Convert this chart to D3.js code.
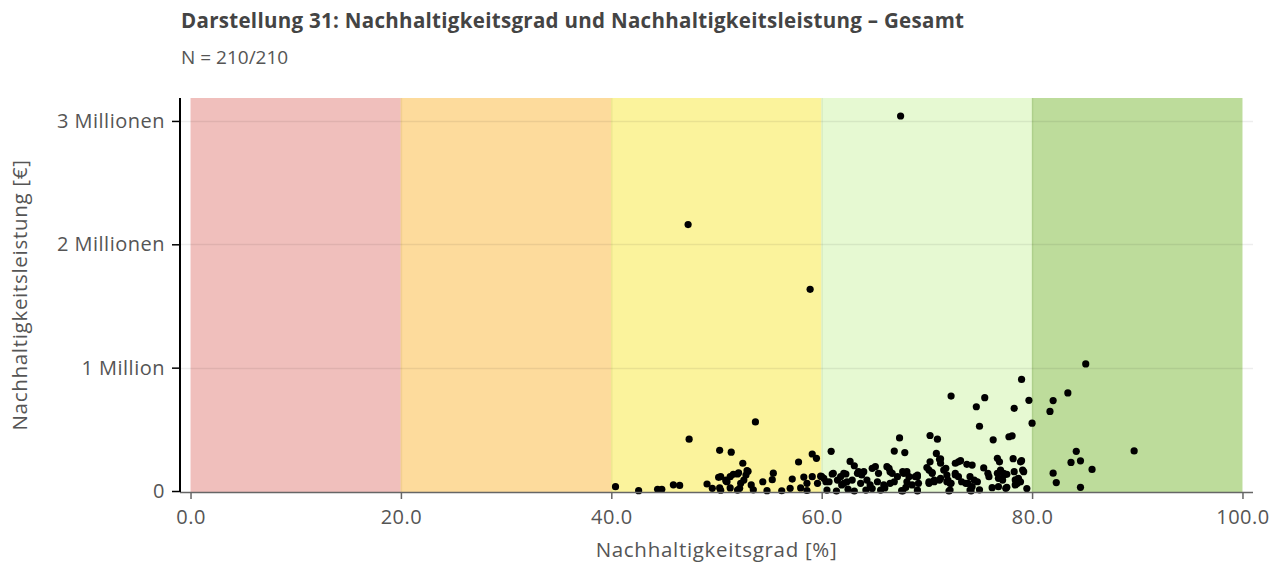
<!DOCTYPE html>
<html>
<head>
<meta charset="utf-8">
<script src="https://cdn.jsdelivr.net/npm/d3@7"></script>
<style>
  html, body { margin: 0; padding: 0; background: #fff; }
  svg { display: block; font-family: "Open Sans", "Noto Sans", sans-serif; }
</style>
</head>
<body>
<svg id="chart" width="1279" height="563"></svg>
<script>
// Rating bands along the x axis (Nachhaltigkeitsgrad in %)
const bandStarts = [0, 20, 40, 60, 80];
const bandEnds   = [20, 40, 60, 80, 100];
const bandColors = ["#f0bfbc", "#fddb9c", "#fbf39c", "#e6f9d2", "#bddc9b"];
const bandEdges  = ["#e6b3b0", "#f2cf90", "#efe690", "#d8edc3", "#aed08c"];

const xTicks = [0, 20, 40, 60, 80, 100];
const xTickLabels = ["0.0", "20.0", "40.0", "60.0", "80.0", "100.0"];
const yTicks = [0, 1e6, 2e6, 3e6];
const yTickLabels = ["0", "1 Million", "2 Millionen", "3 Millionen"];

// Companies: Nachhaltigkeitsgrad [%] and Nachhaltigkeitsleistung [Tsd. €]
const grad = [
  67.5, 47.3, 58.9, 85.1, 79.0, 83.4, 72.3, 75.5, 79.7, 82.0,
  74.7, 78.3, 81.7, 80.0, 75.0, 53.7, 47.4, 70.3, 71.0, 76.3,
  77.8, 78.1, 67.4, 67.9, 66.9, 84.2, 89.7, 50.3, 51.4, 59.1,
  59.5, 60.9, 70.9, 83.7, 84.6, 85.7, 82.0, 82.3, 84.6,
  40.4, 42.6, 44.4, 44.8, 45.9, 46.5, 49.1, 49.6, 50.2, 50.3, 50.9,
  52.5, 57.8, 52.9, 51.6, 52.0, 51.3, 52.8, 50.4, 55.4, 55.3,
  54.4, 57.2, 58.3, 59.1, 59.6, 59.9, 50.9, 52.3, 52.6, 53.3,
  51.3, 52.0, 53.5, 54.8, 56.2, 57.0, 58.0, 58.6, 50.4, 52.2,
  58.6, 51.0, 53.0, 52.1,
  60.0, 61.0, 61.5, 61.8, 62.3, 62.1, 60.5, 61.4, 60.4, 61.1, 60.2, 61.9,
  62.7, 63.1, 62.1, 63.5, 63.8, 64.8, 65.1, 65.4, 66.4, 66.7,
  67.2, 67.7, 68.1, 68.3, 69.1, 70.2, 70.5, 71.6, 71.9, 72.7,
  73.9, 62.4, 62.9, 63.7, 64.3, 64.6, 65.3, 65.9, 66.5, 66.9,
  68.1, 68.6, 69.2, 70.2, 70.7, 71.2, 72.0, 72.3, 73.3, 63.1,
  64.2, 65.6, 67.7, 69.1, 72.1, 73.0, 71.3, 71.2, 70.3, 73.0,
  72.7, 73.8, 74.3, 71.3, 73.2, 76.7, 76.9, 78.2, 79.0, 79.2,
  70.0, 70.5, 71.8, 75.4, 75.8, 77.0, 77.3, 77.6, 78.3, 78.4,
  78.7, 67.8, 68.9, 70.2, 70.7, 71.3, 71.9, 72.2, 72.7, 73.7,
  74.1, 74.3, 74.8, 76.2, 76.8, 77.6, 76.8, 77.3, 67.6, 69.1,
  72.2, 74.2, 78.6, 78.9, 74.5, 74.1, 75.9, 76.7, 77.2, 77.5,
  78.9, 79.1, 78.4, 66.2, 66.5, 69.1, 64.0, 63.4, 62.5, 64.8,
  66.0, 68.0, 75.0, 79.5, 60.7
];
const leistung = [
  3040, 2160, 1635, 1030, 905, 795, 770, 757, 735, 733,
  683, 670, 645, 550, 525, 560, 420, 450, 420, 415,
  440, 447, 430, 312, 324, 322, 325, 330, 315, 300,
  265, 322, 305, 232, 245, 175, 145, 68, 30,
  35, 3, 14, 14, 50, 45, 57, 22, 111, 25, 82,
  225, 235, 165, 135, 138, 116, 130, 116, 145, 92,
  75, 97, 113, 116, 62, 120, 89, 62, 89, 49,
  25, 8, 10, 3, 2, 22, 25, 4, 6, 22,
  62, 75, 160, 148,
  116, 138, 89, 116, 138, 62, 8, 0, 75, 143, 103, 49,
  240, 205, 143, 157, 130, 184, 197, 143, 184, 143,
  116, 157, 157, 116, 116, 170, 143, 170, 130, 143,
  62, 75, 89, 62, 89, 49, 75, 49, 62, 75,
  75, 49, 62, 75, 89, 89, 89, 62, 75, 0,
  8, 8, 0, 0, 0, 116, 225, 257, 237, 237,
  225, 216, 210, 260, 246, 265, 237, 262, 246, 157,
  190, 150, 184, 187, 143, 170, 143, 135, 157, 90,
  103, 143, 116, 62, 75, 103, 75, 62, 130, 62,
  116, 35, 75, 27, 35, 30, 103, 130, 3, 8,
  8, 0, 62, 75, 89, 8, 116, 143, 89, 22,
  237, 170, 49, 197, 157, 130, 157, 143, 15, 20,
  25, 30, 10, 20, 75
];

const points = grad.map((g, i) => ({ x: g, y: leistung[i] * 1000 }));

const svg = d3.select("#chart");
const plotLeft = 180, plotRight = 1253, plotTop = 98, plotBottom = 492;
const textFont = "'Open Sans', sans-serif";

const x = d3.scaleLinear().domain([-1, 101]).range([plotLeft, plotRight]);
const y = d3.scaleLinear().domain([-0.008e6, 3.186e6]).range([plotBottom, plotTop]);

// Colored rating bands
const bands = bandStarts.map((s, i) => ({ s, e: bandEnds[i], c: bandColors[i], edge: bandEdges[i] }));
svg.append("g").selectAll("rect")
  .data(bands).join("rect")
  .attr("x", d => x(d.s))
  .attr("y", plotTop)
  .attr("width", d => x(d.e) - x(d.s))
  .attr("height", plotBottom - plotTop)
  .attr("fill", d => d.c);

// Band separators
svg.append("g").selectAll("line")
  .data(bands.slice(1)).join("line")
  .attr("x1", d => x(d.s) + 0.5).attr("x2", d => x(d.s) + 0.5)
  .attr("y1", plotTop).attr("y2", plotBottom)
  .attr("stroke", d => d.edge).attr("stroke-width", 1.5);

// Horizontal grid lines
svg.append("g").selectAll("line")
  .data(yTicks.slice(1)).join("line")
  .attr("x1", plotLeft).attr("x2", plotRight)
  .attr("y1", d => Math.round(y(d)) + 0.5).attr("y2", d => Math.round(y(d)) + 0.5)
  .attr("stroke", "rgba(0,0,0,0.07)").attr("stroke-width", 1.5);

// Scatter points
svg.append("g").selectAll("circle")
  .data(points).join("circle")
  .attr("cx", d => x(d.x))
  .attr("cy", d => y(d.y))
  .attr("r", 3.6)
  .attr("fill", "#000");

// X axis
const xAxis = d3.axisBottom(x)
  .tickValues(xTicks)
  .tickFormat((d, i) => xTickLabels[i])
  .tickSize(7)
  .tickPadding(11);
const gx = svg.append("g").attr("transform", `translate(0,${plotBottom})`).call(xAxis);
gx.select(".domain").attr("stroke", "#666").attr("stroke-width", 1.5)
  .attr("d", `M${plotLeft},0.5H${plotRight}`);
gx.selectAll(".tick line").attr("stroke", "#666").attr("stroke-width", 1.5);
gx.selectAll(".tick text").attr("fill", "#555").attr("font-size", 20)
  .attr("letter-spacing", 0.5).attr("font-family", textFont);

// Y axis
const yAxis = d3.axisLeft(y)
  .tickValues(yTicks)
  .tickFormat((d, i) => yTickLabels[i])
  .tickSize(8)
  .tickPadding(7);
const gy = svg.append("g").attr("transform", `translate(${plotLeft},0)`).call(yAxis);
gy.select(".domain").attr("stroke", "#000").attr("stroke-width", 2)
  .attr("d", `M0,${plotTop}V${plotBottom}`);
gy.selectAll(".tick line").attr("stroke", "#000").attr("stroke-width", 1.5);
gy.selectAll(".tick text").attr("fill", "#555").attr("font-size", 20)
  .attr("letter-spacing", 0.5).attr("font-family", textFont);

// Axis titles
svg.append("text")
  .attr("x", (x(0) + x(100)) / 2).attr("y", 557)
  .attr("text-anchor", "middle")
  .attr("fill", "#555").attr("font-size", 20.5).attr("letter-spacing", 0.7)
  .text("Nachhaltigkeitsgrad [%]");

svg.append("text")
  .attr("transform", `translate(27,${(plotTop + plotBottom) / 2}) rotate(-90)`)
  .attr("text-anchor", "middle")
  .attr("fill", "#555").attr("font-size", 20.5).attr("letter-spacing", 0.7)
  .text("Nachhaltigkeitsleistung [€]");

// Title and sample size
svg.append("text")
  .attr("x", 181).attr("y", 28)
  .attr("fill", "#444").attr("font-size", 20.5).attr("font-weight", 700)
  .attr("letter-spacing", 0.3)
  .text("Darstellung 31: Nachhaltigkeitsgrad und Nachhaltigkeitsleistung – Gesamt");

svg.append("text")
  .attr("x", 181).attr("y", 64)
  .attr("fill", "#555").attr("font-size", 19)
  .text("N = 210/210");
</script>
</body>
</html>
